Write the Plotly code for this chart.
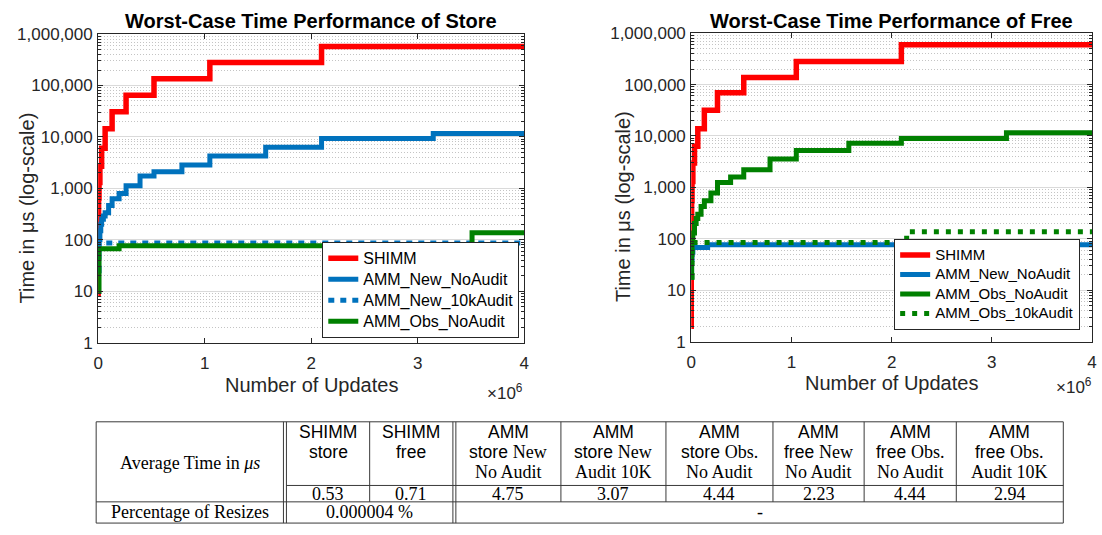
import plotly.graph_objects as go

W, H = 1102, 535
SANS = "Liberation Sans, Arial, Helvetica, sans-serif"
SERIF = "Liberation Serif, Times New Roman, serif"

# ---------------- data ----------------
x_tick_vals = [0, 1e6, 2e6, 3e6, 4e6]
x_tick_text = ["0", "1", "2", "3", "4"]
y_tick_vals = [1, 10, 100, 1000, 10000, 100000, 1000000]
y_tick_text = ["1", "10", "100", "1,000", "10,000", "100,000", "1,000,000"]

# Store
store_shimm_x = [0, 128, 256, 512, 1024, 2048, 4096, 8192, 16384, 32768, 65536, 131072,
                 262144, 524288, 1048576, 2097152, 4000000]
store_shimm_y = [9, 20, 40, 80, 160, 320, 650, 1300, 2700, 6000, 14500, 31000,
                 65000, 135000, 280000, 575000, 575000]
store_new_x = [0, 4096, 8192, 16384, 24576, 32768, 49152, 65536, 98304, 131072, 196608,
               262144, 393216, 524288, 786432, 1048576, 1572864, 2097152, 3145728, 4000000]
store_new_y = [25, 60, 100, 150, 200, 250, 290, 335, 465, 630, 800,
               1120, 1750, 2100, 2850, 4250, 6300, 9300, 11700, 11700]
store_new10k_x = [0, 8192, 4000000]
store_new10k_y = [25, 87, 87]
store_obs_x = [0, 8192, 196608, 3510000, 4000000]
store_obs_y = [10, 67, 77, 137, 137]

# Free
free_shimm_x = [0, 256, 512, 1024, 2048, 4096, 8192, 16384, 32768, 65536, 131072,
                262144, 524288, 1048576, 2097152, 4000000]
free_shimm_y = [2, 20, 45, 100, 230, 550, 1300, 3000, 6300, 13800, 31500,
                69000, 137000, 282000, 596000, 596000]
free_new_x = [0, 4096, 8192, 16384, 163840, 4000000]
free_new_y = [18, 40, 55, 68, 77, 77]
free_obs_x = [0, 4096, 8192, 16384, 32768, 49152, 65536, 98304, 131072, 196608, 262144,
              393216, 524288, 786432, 1048576, 1572864, 2097152, 3145728, 4000000]
free_obs_y = [18, 50, 90, 130, 200, 250, 300, 425, 550, 775, 1250,
              1600, 2200, 3550, 5200, 7200, 8900, 11500, 11500]
free_obs10k_x = [0, 8192, 2150000, 4000000]
free_obs10k_y = [18, 85, 137, 137]

# Table
header_top = ["SHIMM", "SHIMM", "AMM", "AMM", "AMM", "AMM", "AMM", "AMM"]
header_op = ["store", "free", "store", "store", "store", "free", "free", "free"]
header_variant = ["", "", "New", "New", "Obs.", "New", "Obs.", "Obs."]
header_audit = ["", "", "No Audit", "Audit 10K", "No Audit", "No Audit", "No Audit", "Audit 10K"]
avg_times = ["0.53", "0.71", "4.75", "3.07", "4.44", "2.23", "4.44", "2.94"]
row_label_avg = "Average Time in <i>μs</i>"
row_label_pct = "Percentage of Resizes"
resize_shimm = "0.000004 %"
resize_amm = "-"

RED, BLUE, GREEN = "#FF0000", "#0072BD", "#008000"
AX = "#262626"


def px(x):
    return x / W


def py(y):
    return 1 - y / H


fig = go.Figure()


def add(x, y, name, color, xa, ya, leg, size, dash=None, width=5):
    fig.add_trace(go.Scatter(
        x=x, y=y, name='<span style="font-size:%gpx">%s</span>' % (size, name),
        mode="lines", line_shape="hv",
        line=dict(color=color, width=width, dash=dash),
        xaxis=xa, yaxis=ya, legend=leg))


add(store_shimm_x, store_shimm_y, "SHIMM", RED, "x", "y", "legend", 16, width=5.5)
add(store_new_x, store_new_y, "AMM_New_NoAudit", BLUE, "x", "y", "legend", 16)
add(store_new10k_x, store_new10k_y, "AMM_New_10kAudit", BLUE, "x", "y", "legend", 16, dash="6px,6px")
add(store_obs_x, store_obs_y, "AMM_Obs_NoAudit", GREEN, "x", "y", "legend", 16)

add(free_shimm_x, free_shimm_y, "SHIMM", RED, "x2", "y2", "legend2", 15, width=5.5)
add(free_new_x, free_new_y, "AMM_New_NoAudit", BLUE, "x2", "y2", "legend2", 15)
add(free_obs_x, free_obs_y, "AMM_Obs_NoAudit", GREEN, "x2", "y2", "legend2", 15)
add(free_obs10k_x, free_obs10k_y, "AMM_Obs_10kAudit", GREEN, "x2", "y2", "legend2", 15, dash="5px,7px")


def xcfg(domain, anchor):
    return dict(domain=domain, anchor=anchor, range=[0, 4e6], tickmode="array",
                tickvals=x_tick_vals, ticktext=x_tick_text, ticks="inside", ticklen=5,
                tickcolor=AX, mirror="allticks", showline=True, linecolor=AX, linewidth=1,
                showgrid=False, zeroline=False, ticklabelstandoff=5,
                tickfont=dict(family=SANS, size=17, color=AX))


def ycfg(domain, anchor):
    return dict(domain=domain, anchor=anchor, type="log", range=[0, 6], tickmode="array",
                tickvals=y_tick_vals, ticktext=y_tick_text, ticks="inside", ticklen=5,
                tickcolor=AX, mirror="allticks", showline=True, linecolor=AX, linewidth=1,
                showgrid=True, gridcolor="#dadada", gridwidth=1, zeroline=False,
                ticklabelstandoff=1,
                tickfont=dict(family=SANS, size=17, color=AX),
                minor=dict(ticks="inside", ticklen=3, tickcolor=AX, dtick="D1",
                           showgrid=True, gridcolor="#c4c4c4", griddash="1px,2px", gridwidth=1))


fig.update_layout(
    width=W, height=H, margin=dict(l=0, r=0, t=0, b=0),
    paper_bgcolor="white", plot_bgcolor="white",
    xaxis=xcfg([px(94), px(524)], "y"),
    yaxis=ycfg([py(346), py(26)], "x"),
    xaxis2=xcfg([px(692.5), px(1097)], "y2"),
    yaxis2=ycfg([py(345), py(25)], "x2"),
    legend=dict(x=px(519), y=py(341), xanchor="right", yanchor="bottom",
                bgcolor="white", bordercolor=AX, borderwidth=1, tracegroupgap=0,
                font=dict(family=SANS, size=13.8, color="black")),
    legend2=dict(x=px(1085), y=py(333), xanchor="right", yanchor="bottom",
                 bgcolor="white", bordercolor=AX, borderwidth=1, tracegroupgap=0,
                 font=dict(family=SANS, size=12.7, color="black")),
    showlegend=True,
)

ann = []


def A(text, x, y, size, family=SANS, xanchor="center", yanchor="middle", color="black",
      angle=0):
    ann.append(dict(text=text, x=px(x), y=py(y), xref="paper", yref="paper",
                    xanchor=xanchor, yanchor=yanchor, showarrow=False, textangle=angle,
                    font=dict(family=family, size=size, color=color)))


# chart titles and axis labels
A("<b>Worst-Case Time Performance of Store</b>", 309, 12.5, 20)
A("<b>Worst-Case Time Performance of Free</b>", 895, 12, 20)
A("Number of Updates", 309, 390, 20, color=AX)
A("Number of Updates", 895, 388, 20, color=AX)
A("Time in μs (log-scale)", 22, 206, 20, color=AX, angle=-90)
A("Time in μs (log-scale)", 623, 205, 20, color=AX, angle=-90)
A("×10<sup>6</sup>", 525, 397, 17, xanchor="right", color=AX)
A("×10<sup>6</sup>", 1099, 391, 17, xanchor="right", color=AX)

# ---------------- table ----------------
T_TOP, T_SEP1, T_SEP2, T_BOT = 428, 494, 511, 533
T_LEFT, T_RIGHT = 92, 1068
col_left = [284, 368, 455, 561, 667, 775, 867, 960]
col_right = [368, 452, 561, 667, 775, 867, 960, 1068]
line_y = [438.5, 459.5, 480.5]
SF, RF = 17.5, 18   # sans / serif table font sizes


def serif(s):
    return '<span style="font-family:Liberation Serif, Times New Roman, serif;font-size:%gpx">%s</span>' % (RF, s)


for i in range(len(header_top)):
    cx = (col_left[i] + col_right[i]) / 2
    A(header_top[i], cx, line_y[0], SF)
    l2 = header_op[i]
    if header_variant[i]:
        l2 += " " + serif(header_variant[i])
    A(l2, cx, line_y[1], SF)
    if header_audit[i]:
        A(header_audit[i], cx, line_y[2], RF, family=SERIF)
    A(avg_times[i], cx, (T_SEP1 + T_SEP2) / 2 + 0.5, RF, family=SERIF)

A(row_label_avg, (T_LEFT + 281) / 2, (T_TOP + T_SEP2) / 2 + 1, RF, family=SERIF)
A(row_label_pct, (T_LEFT + 281) / 2, (T_SEP2 + T_BOT) / 2, RF, family=SERIF)
A(resize_shimm, (284 + 452) / 2, (T_SEP2 + T_BOT) / 2, RF, family=SERIF)
A(resize_amm, (455 + T_RIGHT) / 2, (T_SEP2 + T_BOT) / 2, RF, family=SERIF)

shapes = []
LC = "#3a3a3a"


def L(x0, y0, x1, y1):
    shapes.append(dict(type="line", xref="paper", yref="paper", x0=px(x0), y0=py(y0),
                       x1=px(x1), y1=py(y1), line=dict(color=LC, width=1)))


L(T_LEFT, T_TOP, T_RIGHT, T_TOP)
L(284, T_SEP1, T_RIGHT, T_SEP1)
L(T_LEFT, T_SEP2, T_RIGHT, T_SEP2)
L(T_LEFT, T_BOT, T_RIGHT, T_BOT)
for xv in [T_LEFT, 281, 284, 452, 455, T_RIGHT]:
    L(xv, T_TOP, xv, T_BOT)
for xv in [368, 561, 667, 775, 867, 960]:
    L(xv, T_TOP, xv, T_SEP2)

fig.update_layout(annotations=ann, shapes=shapes)

fig.write_html("out.html", config={"displayModeBar": False},
               post_script="document.body.style.margin='0';document.body.style.overflow='hidden';")
